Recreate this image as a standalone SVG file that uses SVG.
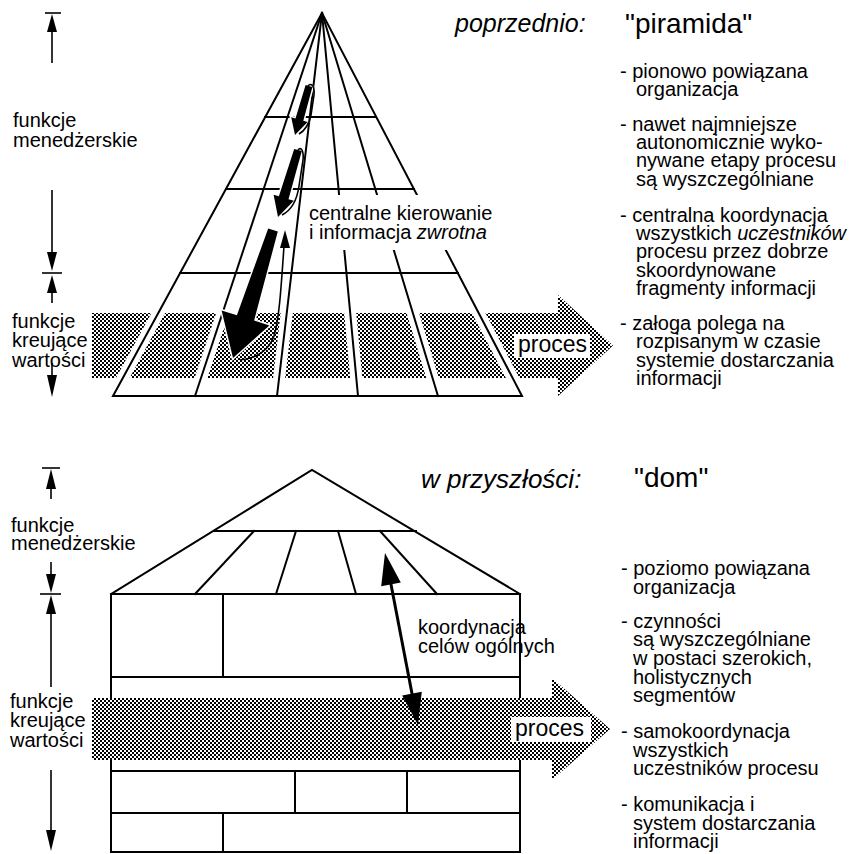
<svg xmlns="http://www.w3.org/2000/svg" width="854" height="854" viewBox="0 0 854 854">
  <defs>
    <pattern id="dither" width="4" height="4" patternUnits="userSpaceOnUse">
      <rect width="4" height="4" fill="#fff"/>
      <rect width="2" height="2" fill="#000"/>
      <rect x="2" y="2" width="2" height="2" fill="#000"/>
    </pattern>
    <style>
      text { font-family: "Liberation Sans", Arial, sans-serif; fill: #000; }
      .lbl { font-size: 20px; }
      .head { font-size: 25px; font-style: italic; }
      .name { font-size: 28px; }
      .proc { font-size: 23px; }
      .it { font-style: italic; }
      .ln { stroke: #000; stroke-width: 2; fill: none; stroke-linecap: square; }
      .halo { stroke: #fff; stroke-width: 12; fill: none; }
      .dim { stroke: #000; stroke-width: 1.6; fill: none; }
      .band { fill: url(#dither); }
      .blk { fill: #000; stroke: #fff; stroke-width: 3; paint-order: stroke; }
      .thin { stroke: #000; stroke-width: 1.6; fill: none; }
    </style>
  </defs>
  <rect width="854" height="854" fill="#fff"/>

  <!-- ===== upper part: pyramid ===== -->
  <g id="pyramid-dimensions">
    <line class="dim" x1="45" y1="13" x2="61" y2="13"/>
    <polygon points="52,14 47,32 57,32"/>
    <line class="dim" x1="52" y1="32" x2="52" y2="63"/>
    <line class="dim" x1="52" y1="190" x2="52" y2="253"/>
    <polygon points="47,252 57,252 52,271"/>
    <line class="dim" x1="42" y1="273" x2="62" y2="273"/>
    <polygon points="52,275 47,293 57,293"/>
    <line class="dim" x1="52" y1="292" x2="52" y2="303"/>
    <line class="dim" x1="52" y1="363" x2="52" y2="376"/>
    <polygon points="47,375 57,375 52,397"/>
  </g>
  <g id="pyramid-labels">
    <text class="lbl" x="13" y="127">funkcje</text>
    <text class="lbl" x="13" y="147">menedżerskie</text>
    <text class="lbl" x="12" y="328">funkcje</text>
    <text class="lbl" x="12" y="347">kreujące</text>
    <text class="lbl" x="12" y="367">wartości</text>
  </g>

  <g id="process-band-top">
    <path class="band" d="M92,313 H558 V295 L613,345.5 L558,396 V378 H92 Z"/>
  </g>

  <g id="pyramid">
    <g class="halo">
      <polygon points="322,13 113,396 522,396"/>
      <line x1="322" y1="13" x2="195" y2="396"/>
      <line x1="322" y1="13" x2="277" y2="396"/>
      <line x1="322" y1="13" x2="358" y2="396"/>
      <line x1="322" y1="13" x2="438" y2="396"/>
    </g>
    <polygon class="ln" points="322,13 113,396 522,396" stroke-linejoin="miter"/>
    <line class="ln" x1="322" y1="13" x2="195" y2="396"/>
    <line class="ln" x1="322" y1="13" x2="277" y2="396"/>
    <line class="ln" x1="322" y1="13" x2="358" y2="396"/>
    <line class="ln" x1="322" y1="13" x2="438" y2="396"/>
    <line class="ln" x1="265" y1="117" x2="376" y2="117"/>
    <line class="ln" x1="226" y1="189" x2="414" y2="189"/>
    <line class="ln" x1="180" y1="273" x2="458" y2="273"/>
  </g>

  <g id="central-control">
    <rect x="304" y="195" width="196" height="55" fill="#fff"/>
    <text class="lbl" x="309" y="220">centralne kierowanie</text>
    <text class="lbl" x="309" y="239">i informacja <tspan class="it">zwrotna</tspan></text>
  </g>

  <g id="control-arrows">
    <!-- downward commands -->
    <polygon class="blk" points="305.6,85 312.4,87 303.3,120.7 307.6,122 295,135 291.2,117.2 295.5,118.5"/>
    <polygon class="blk" points="294.2,148.9 301.8,151.1 288.5,199.2 293.8,200.8 278,217 273.6,194.7 278.9,196.3"/>
    <polygon class="blk" points="268.2,228.5 277.8,231.5 254.1,320.6 269.4,325.4 233,358 221.6,310.5 236.9,315.2"/>
    <!-- feedback returns -->
    <path class="thin" d="M299,134 C306,130 309,124 311,115 L314,95 C315,86 311,82 308,86"/>
    <path class="thin" d="M282,215 C292,210 297,200 299,186 L303,160 C304,151 301,146 298,150"/>
    <path class="thin" d="M240,360 C256,359 269,350 274,336 C279,320 281,290 284,246"/>
    <polygon points="285,230 280,248 290,248"/>
  </g>

  <g id="process-label-top">
    <rect x="514" y="334" width="76" height="24" fill="#fff"/>
    <text class="proc" x="518" y="352">proces</text>
  </g>

  <g id="pyramid-notes">
    <text class="head" x="455" y="32">poprzednio:</text>
    <text class="name" x="625" y="33">"piramida"</text>
    <text class="lbl" x="620" y="78">- pionowo powiązana</text>
    <text class="lbl" x="636" y="96">organizacja</text>
    <text class="lbl" x="620" y="131">- nawet najmniejsze</text>
    <text class="lbl" x="636" y="149">autonomicznie wyko-</text>
    <text class="lbl" x="636" y="167">nywane etapy procesu</text>
    <text class="lbl" x="636" y="186">są wyszczególniane</text>
    <text class="lbl" x="620" y="222">- centralna koordynacja</text>
    <text class="lbl" x="636" y="240">wszystkich <tspan class="it">uczestników</tspan></text>
    <text class="lbl" x="636" y="258">procesu przez dobrze</text>
    <text class="lbl" x="636" y="277">skoordynowane</text>
    <text class="lbl" x="636" y="295">fragmenty informacji</text>
    <text class="lbl" x="620" y="330">- załoga polega na</text>
    <text class="lbl" x="636" y="348">rozpisanym w czasie</text>
    <text class="lbl" x="636" y="367">systemie dostarczania</text>
    <text class="lbl" x="636" y="385">informacji</text>
  </g>

  <!-- ===== lower part: house ===== -->
  <g id="house-dimensions">
    <line class="dim" x1="42" y1="468" x2="60" y2="468"/>
    <polygon points="51,469 46,489 56,489"/>
    <line class="dim" x1="51" y1="488" x2="51" y2="499"/>
    <line class="dim" x1="51" y1="562" x2="51" y2="575"/>
    <polygon points="46,574 56,574 51,593"/>
    <line class="dim" x1="40" y1="594" x2="61" y2="594"/>
    <polygon points="51,595 46,614 56,614"/>
    <line class="dim" x1="51" y1="613" x2="51" y2="687"/>
    <line class="dim" x1="51" y1="770" x2="51" y2="831"/>
    <polygon points="46,830 56,830 51,851"/>
  </g>
  <g id="house-labels">
    <text class="lbl" x="11" y="532">funkcje</text>
    <text class="lbl" x="11" y="550">menedżerskie</text>
    <text class="lbl" x="10" y="708">funkcje</text>
    <text class="lbl" x="10" y="727">kreujące</text>
    <text class="lbl" x="10" y="747">wartości</text>
  </g>

  <g id="house">
    <polyline class="ln" points="111,594 312,470 520,594"/>
    <line class="ln" x1="214" y1="531" x2="416" y2="531"/>
    <line class="ln" x1="254" y1="531" x2="195" y2="594"/>
    <line class="ln" x1="296" y1="531" x2="276" y2="594"/>
    <line class="ln" x1="338" y1="531" x2="356" y2="594"/>
    <line class="ln" x1="380" y1="531" x2="437" y2="594"/>
    <rect class="ln" x="111" y="594" width="409" height="258"/>
    <line class="ln" x1="111" y1="677" x2="520" y2="677"/>
    <line class="ln" x1="111" y1="771" x2="520" y2="771"/>
    <line class="ln" x1="111" y1="813" x2="520" y2="813"/>
    <line class="ln" x1="223" y1="594" x2="223" y2="677"/>
    <line class="ln" x1="295" y1="771" x2="295" y2="813"/>
    <line class="ln" x1="407" y1="771" x2="407" y2="813"/>
    <line class="ln" x1="223" y1="813" x2="223" y2="852"/>
  </g>

  <g id="process-band-bottom">
    <path class="band" d="M92,698 H552 V678 L610,729 L552,780 V760 H92 Z"/>
  </g>

  <g id="goal-coordination">
    <line x1="389" y1="574" x2="414" y2="704" stroke="#000" stroke-width="3"/>
    <polygon points="385,553 400.8,582.5 381.2,586.3"/>
    <polygon points="418,725 421.8,691.7 402.2,695.5"/>
    <text class="lbl" x="418" y="634">koordynacja</text>
    <text class="lbl" x="418" y="653">celów ogólnych</text>
  </g>

  <g id="process-label-bottom">
    <rect x="511" y="717" width="80" height="25" fill="#fff"/>
    <text class="proc" x="515" y="736">proces</text>
  </g>

  <g id="house-notes">
    <text class="head" x="421" y="488" style="font-size:26px">w przyszłości:</text>
    <text class="name" x="634" y="487">"dom"</text>
    <text class="lbl" x="621" y="575">- poziomo powiązana</text>
    <text class="lbl" x="633" y="594">organizacja</text>
    <text class="lbl" x="621" y="628">- czynności</text>
    <text class="lbl" x="633" y="646">są wyszczególniane</text>
    <text class="lbl" x="633" y="665">w postaci szerokich,</text>
    <text class="lbl" x="633" y="684">holistycznych</text>
    <text class="lbl" x="633" y="702">segmentów</text>
    <text class="lbl" x="621" y="738">- samokoordynacja</text>
    <text class="lbl" x="633" y="757">wszystkich</text>
    <text class="lbl" x="633" y="775">uczestników procesu</text>
    <text class="lbl" x="621" y="811">- komunikacja i</text>
    <text class="lbl" x="633" y="830">system dostarczania</text>
    <text class="lbl" x="633" y="848">informacji</text>
  </g>
</svg>
